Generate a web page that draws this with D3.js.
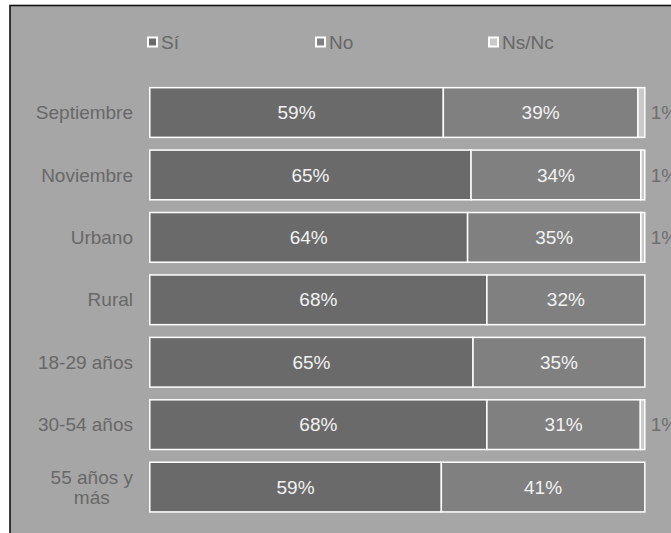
<!DOCTYPE html>
<html><head><meta charset="utf-8">
<script src="https://cdn.jsdelivr.net/npm/d3@7"></script>
<style>
html,body{margin:0;padding:0;background:#fff;}
svg{display:block;font-family:Arial,"Liberation Sans",sans-serif;}
</style></head>
<body><svg id="c" width="671" height="533"></svg>
<script>
const categories = ["Septiembre","Noviembre","Urbano","Rural","18-29 años","30-54 años","55 años y más"];
const seriesNames = ["Sí","No","Ns/Nc"];
const si   = [59.3, 64.9, 64.2, 68.1, 65.3, 68.1, 58.9];
const no   = [39.3, 34.3, 35.0, 31.9, 34.7, 31.0, 41.1];
const nsnc = [1.4, 0.8, 0.8, 0, 0, 0.9, 0];
const colors = ["#6a6a6a","#808080","#c9c9c9"];

const svg = d3.select("#c");
const W = 671, H = 533;
const FS = 19;
// frame
svg.append("rect").attr("x",10).attr("y",5.5).attr("width",W).attr("height",H)
  .attr("fill","#a6a6a6").attr("stroke","#111").attr("stroke-width",1.6);

const x = d3.scaleLinear().domain([0,100]).range([149.8,644.8]);
const y = d3.scaleBand().domain(categories).range([81.3,518.3]).paddingInner(0.18).paddingOuter(0.09);

const rows = categories.map((c,i)=>({cat:c, vals:[si[i],no[i],nsnc[i]]}));
const fmt = v => d3.format(".0f")(v) + "%";

const g = svg.append("g");
rows.forEach(r=>{
  let acc = 0;
  r.vals.forEach((v,k)=>{
    if(v<=0){return;}
    const x0 = x(acc), x1 = x(acc+v);
    g.append("rect").attr("x",x0).attr("y",y(r.cat)+0.75)
      .attr("width",x1-x0).attr("height",y.bandwidth()-1.5)
      .attr("fill",colors[k]).attr("stroke","#fff").attr("stroke-width",1.5);
    if(k<2){
      g.append("text").attr("x",(x0+x1)/2).attr("y",y(r.cat)+y.bandwidth()/2)
        .attr("dy","0.35em").attr("text-anchor","middle")
        .attr("fill","#f2f2f2").attr("font-size",FS).text(fmt(v));
    } else {
      g.append("text").attr("x",x(100)+6).attr("y",y(r.cat)+y.bandwidth()/2)
        .attr("dy","0.35em").attr("text-anchor","start")
        .attr("fill","#6e6e6e").attr("font-size",FS).text(fmt(Math.max(1,v)));
    }
    acc += v;
  });
});

// category labels
const labelRight = 133;
const wraps = {"55 años y más":["55 años y","más"]};
categories.forEach(c=>{
  const cy = y(c)+y.bandwidth()/2;
  if(wraps[c]){
    const lines = wraps[c];
    const t = svg.append("text").attr("fill","#686868").attr("font-size",FS).attr("text-anchor","middle");
    const tmp = svg.append("text").attr("font-size",FS).text(lines[0]);
    const w = tmp.node().getComputedTextLength(); tmp.remove();
    lines.forEach((l,i)=>{
      t.append("tspan").attr("x",labelRight - w/2).attr("y",cy + (i-(lines.length-1)/2)*20)
        .attr("dy","0.35em").text(l);
    });
  } else {
    svg.append("text").attr("x",labelRight).attr("y",cy).attr("dy","0.35em")
      .attr("text-anchor","end").attr("fill","#686868").attr("font-size",FS).text(c);
  }
});

// legend
const legX = [147, 315, 488];
seriesNames.forEach((s,i)=>{
  svg.append("rect").attr("x",legX[i]+1).attr("y",37.5).attr("width",9).attr("height",9)
    .attr("fill",colors[i]).attr("stroke","#fff").attr("stroke-width",2);
  svg.append("text").attr("x",legX[i]+14).attr("y",42).attr("dy","0.35em")
    .attr("fill","#686868").attr("font-size",FS).text(s);
});
</script></body></html>
